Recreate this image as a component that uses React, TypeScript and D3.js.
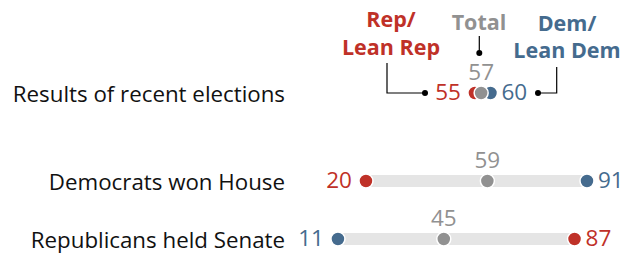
import { scaleLinear, scaleOrdinal } from 'd3';

const rowLabels = ['Results of recent elections', 'Democrats won House', 'Republicans held Senate'];
const repValues = [55, 20, 87];
const totalValues = [57, 59, 45];
const demValues = [60, 91, 11];

const RED = '#bf3128';
const BLUE = '#456b8e';
const GRAY = '#919191';
const TRACK = '#e5e5e5';
const FONT = '"Open Sans", Roboto, sans-serif';

export default function App() {
  const width = 633;
  const height = 253;
  const x = scaleLinear().domain([0, 100]).range([303.7, 615]);
  const y = scaleOrdinal<number, number>().domain([0, 1, 2]).range([93, 181, 239]);
  const r = 7;

  return (
    <svg width={width} height={height} style={{ position: 'absolute', left: 0, top: 0 }} fontFamily={FONT}>
      {rowLabels.map((label, i) => {
        const cy = y(i);
        const rep = repValues[i];
        const dem = demValues[i];
        const tot = totalValues[i];
        const lo = Math.min(rep, dem);
        const hi = Math.max(rep, dem);
        const loColor = rep < dem ? RED : BLUE;
        const hiColor = rep < dem ? BLUE : RED;
        return (
          <g key={label}>
            <text x={285} y={cy + 8.5} textAnchor="end" fontSize={22.3} fill="#111">{label}</text>
            <rect x={x(lo)} y={cy - 6} width={x(hi) - x(lo)} height={12} fill={TRACK} />
            <circle cx={x(rep)} cy={cy} r={r} fill={RED} stroke="#fff" strokeWidth={1.5} />
            <circle cx={x(dem)} cy={cy} r={r} fill={BLUE} stroke="#fff" strokeWidth={1.5} />
            <circle cx={x(tot)} cy={cy} r={r} fill={GRAY} stroke="#fff" strokeWidth={1.5} />
            <text x={x(lo) - 14} y={cy + 7} textAnchor="end" fontSize={22.5} fill={loColor}>{lo}</text>
            <text x={x(hi) + 11} y={cy + 7} textAnchor="start" fontSize={22.5} fill={hiColor}>{hi}</text>
            <text x={x(tot)} y={cy - 13} textAnchor="middle" fontSize={22.5} fill={GRAY}>{tot}</text>
          </g>
        );
      })}

      {/* legend callouts on the first row */}
      <g fontWeight="bold" fontSize={21.5} textAnchor="middle">
        <text fill={RED}>
          <tspan x={391} y={27}>Rep/</tspan>
          <tspan x={391} y={55}>Lean Rep</tspan>
        </text>
        <text x={479} y={30} fill={GRAY}>Total</text>
        <text fill={BLUE}>
          <tspan x={567} y={31}>Dem/</tspan>
          <tspan x={567} y={58}>Lean Dem</tspan>
        </text>
      </g>
      <g stroke="#000" strokeWidth={1.2} fill="none">
        <polyline points={`387,63 387,${y(0)} 425,${y(0)}`} />
        <polyline points={`556.7,67 556.7,${y(0)} 538,${y(0)}`} />
        <line x1={479.3} y1={36} x2={479.3} y2={53} />
      </g>
      <circle cx={425} cy={y(0)} r={3} fill="#000" />
      <circle cx={538} cy={y(0)} r={3} fill="#000" />
      <circle cx={479.3} cy={53} r={3} fill="#000" />
    </svg>
  );
}
